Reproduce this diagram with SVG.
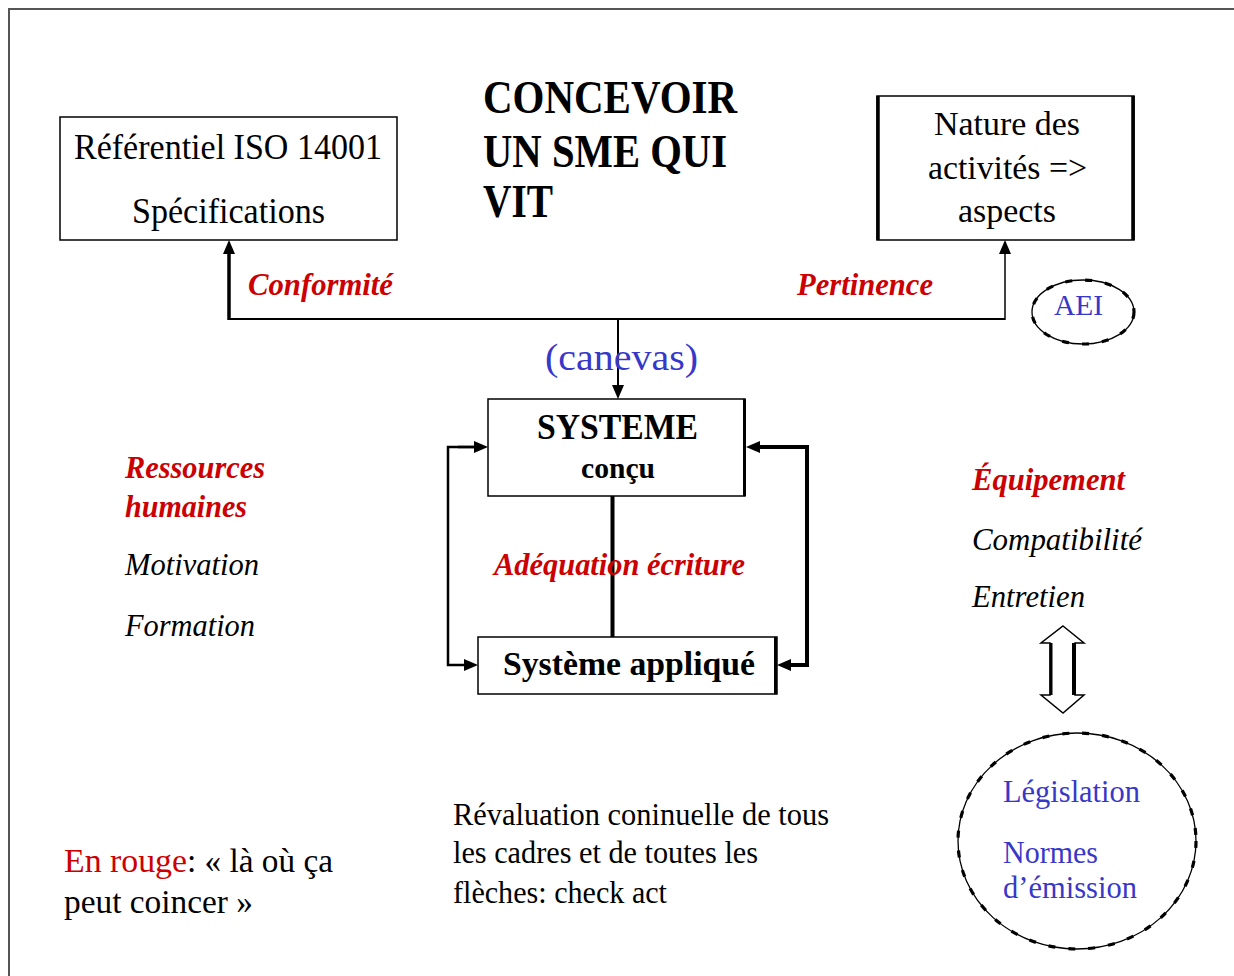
<svg xmlns="http://www.w3.org/2000/svg" width="1234" height="976" viewBox="0 0 1234 976">
<style>
text{font-family:"Liberation Serif","Times New Roman",serif;fill:#000}
.b{font-weight:bold}
.i{font-style:italic}
.r{fill:#cc0000}
.bl{fill:#3838c8}
.box{fill:#fff;stroke:#000;stroke-width:1.5}
.ln{fill:none;stroke:#000}
.blob{fill:#fff;stroke:#000;stroke-width:1.3}
.dash{fill:none;stroke:#000;stroke-width:3.2;stroke-dasharray:7 13}
</style>
<defs>
<marker id="ah" markerUnits="userSpaceOnUse" markerWidth="14" markerHeight="12" refX="4" refY="6" orient="auto" overflow="visible">
<path d="M0,0 L14,6 L0,12 z" fill="#000"/>
</marker>
</defs>
<rect width="1234" height="976" fill="#fff"/>
<g id="frame"><path d="M9,976 V9 H1234" fill="none" stroke="#555" stroke-width="2"/></g>

<g id="title">
<text class="b" x="483" y="113" font-size="46" textLength="254" lengthAdjust="spacingAndGlyphs">CONCEVOIR</text>
<text class="b" x="483" y="167" font-size="46" textLength="244" lengthAdjust="spacingAndGlyphs">UN SME QUI</text>
<text class="b" x="483" y="217" font-size="46" textLength="70" lengthAdjust="spacingAndGlyphs">VIT</text>
</g>

<g id="referentiel">
<rect class="box" x="60" y="117" width="337" height="123"/>
<text x="74" y="159" font-size="35" textLength="308" lengthAdjust="spacingAndGlyphs">Référentiel ISO 14001</text>
<text x="132" y="223" font-size="35" textLength="193" lengthAdjust="spacingAndGlyphs">Spécifications</text>
</g>

<g id="nature">
<rect class="box" x="877" y="96" width="257" height="144"/>
<path class="ln" d="M878,96 V240 M1133,96 V240" stroke-width="3.5"/>
<text x="934" y="135" font-size="34" textLength="146" lengthAdjust="spacingAndGlyphs">Nature des</text>
<text x="928" y="179" font-size="34" textLength="159" lengthAdjust="spacingAndGlyphs">activités =&gt;</text>
<text x="958" y="222" font-size="34" textLength="98" lengthAdjust="spacingAndGlyphs">aspects</text>
</g>

<g id="aei">
<ellipse class="blob" cx="1083" cy="312" rx="51" ry="32"/>
<ellipse class="dash" cx="1083" cy="312" rx="51" ry="32"/>
<text class="bl" x="1054" y="315" font-size="30" textLength="49" lengthAdjust="spacingAndGlyphs">AEI</text>
</g>

<g id="connectors">
<path class="ln" d="M229,319 H1005" stroke-width="2"/>
<path class="ln" d="M229,320 V250" stroke-width="3.5" marker-end="url(#ah)"/>
<path class="ln" d="M1005,320 V250" stroke-width="1.5" marker-end="url(#ah)"/>
<path class="ln" d="M618,319 V389" stroke-width="2" marker-end="url(#ah)"/>
<path class="ln" d="M612.5,496 V637" stroke-width="4"/>
<path class="ln" d="M478,447 H448 V665 H468" stroke-width="2.5" marker-end="url(#ah)"/>
<path class="ln" d="M458,447 H478" stroke-width="2.5" marker-end="url(#ah)"/>
<path class="ln" d="M760,447 H807 V665 H787" stroke-width="4" marker-end="url(#ah)"/>
<path class="ln" d="M770,447 H756" stroke-width="4" marker-end="url(#ah)"/>
</g>

<g id="labels">
<text class="b i r" x="248" y="295" font-size="31" textLength="145" lengthAdjust="spacingAndGlyphs">Conformité</text>
<text class="b i r" x="797" y="295" font-size="31" textLength="136" lengthAdjust="spacingAndGlyphs">Pertinence</text>
<text class="bl" x="545" y="370" font-size="38" textLength="153" lengthAdjust="spacingAndGlyphs">(canevas)</text>
<text class="b i r" x="494" y="575" font-size="31" textLength="251" lengthAdjust="spacingAndGlyphs">Adéquation écriture</text>
</g>

<g id="systeme">
<rect class="box" x="488" y="399" width="257" height="97"/>
<path class="ln" d="M744.5,399 V496" stroke-width="3"/>
<text class="b" x="537" y="439" font-size="35" textLength="161" lengthAdjust="spacingAndGlyphs">SYSTEME</text>
<text class="b" x="581" y="478" font-size="29" textLength="74" lengthAdjust="spacingAndGlyphs">conçu</text>
</g>

<g id="applique">
<rect class="box" x="478" y="637" width="299" height="57"/>
<path class="ln" d="M775.5,637 V694" stroke-width="3"/>
<text class="b" x="503" y="675" font-size="34" textLength="252" lengthAdjust="spacingAndGlyphs">Système appliqué</text>
</g>

<g id="ressources">
<text class="b i r" x="125" y="478" font-size="31" textLength="140" lengthAdjust="spacingAndGlyphs">Ressources</text>
<text class="b i r" x="125" y="517" font-size="31" textLength="122" lengthAdjust="spacingAndGlyphs">humaines</text>
<text class="i" x="125" y="575" font-size="31" textLength="134" lengthAdjust="spacingAndGlyphs">Motivation</text>
<text class="i" x="125" y="636" font-size="31" textLength="130" lengthAdjust="spacingAndGlyphs">Formation</text>
</g>

<g id="equipement">
<text class="b i r" x="972" y="490" font-size="31" textLength="153" lengthAdjust="spacingAndGlyphs">Équipement</text>
<text class="i" x="972" y="550" font-size="31" textLength="170" lengthAdjust="spacingAndGlyphs">Compatibilité</text>
<text class="i" x="972" y="607" font-size="31" textLength="113" lengthAdjust="spacingAndGlyphs">Entretien</text>
</g>

<g id="doublearrow">
<polygon points="1063,626 1084,643 1075,643 1075,695 1084,695 1063,713 1041,695 1050,695 1050,643 1041,643" fill="#fff" stroke="#000" stroke-width="1.5" stroke-linejoin="miter"/>
<path class="ln" d="M1051,643 V695" stroke-width="3"/>
<path class="ln" d="M1074,643 V695" stroke-width="4"/>
</g>

<g id="legislation">
<ellipse class="blob" cx="1077" cy="841" rx="119" ry="108"/>
<ellipse class="dash" cx="1077" cy="841" rx="119" ry="108"/>
<text class="bl" x="1003" y="802" font-size="31" textLength="137" lengthAdjust="spacingAndGlyphs">Législation</text>
<text class="bl" x="1003" y="863" font-size="31" textLength="95" lengthAdjust="spacingAndGlyphs">Normes</text>
<text class="bl" x="1003" y="898" font-size="31" textLength="134" lengthAdjust="spacingAndGlyphs">d’émission</text>
</g>

<g id="revaluation">
<text x="453" y="825" font-size="31" textLength="376" lengthAdjust="spacingAndGlyphs">Révaluation coninuelle de tous</text>
<text x="453" y="863" font-size="31" textLength="305" lengthAdjust="spacingAndGlyphs">les cadres et de toutes les</text>
<text x="453" y="903" font-size="31" textLength="214" lengthAdjust="spacingAndGlyphs">flèches: check act</text>
</g>

<g id="legend">
<text class="r" x="64" y="872" font-size="33" textLength="123" lengthAdjust="spacingAndGlyphs">En rouge</text>
<text x="187" y="872" font-size="33" textLength="146" lengthAdjust="spacingAndGlyphs">: « là où ça</text>
<text x="64" y="913" font-size="33" textLength="189" lengthAdjust="spacingAndGlyphs">peut coincer »</text>
</g>
</svg>
